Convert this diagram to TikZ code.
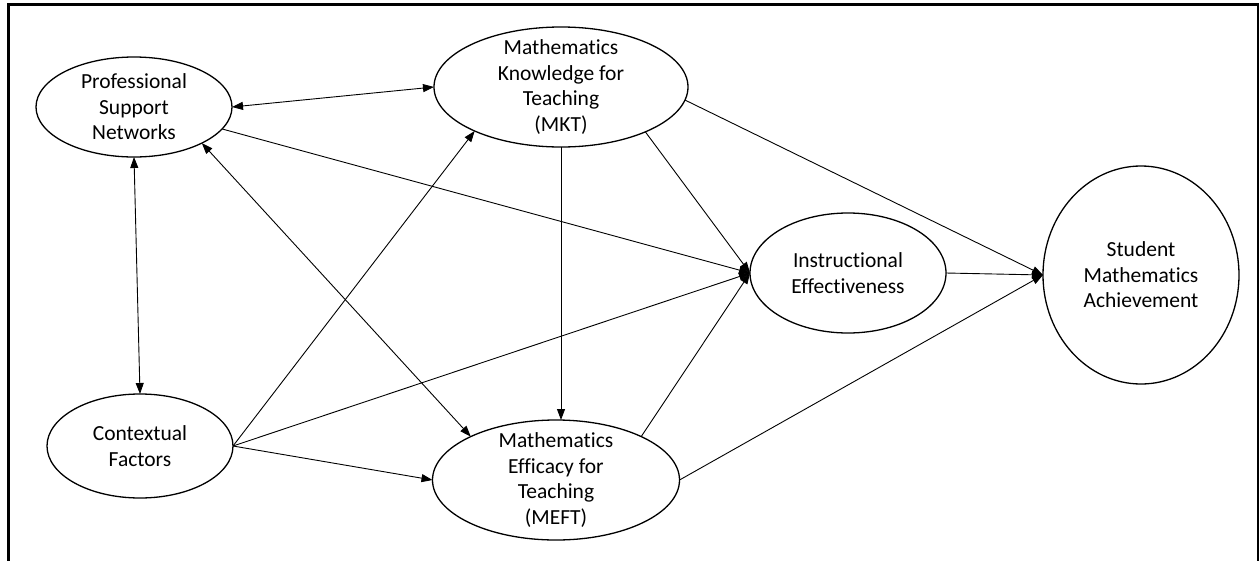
\documentclass[tikz,border=0pt]{standalone}
\usepackage{fontspec}
\setmainfont{Carlito}[Ligatures=NoCommon]
\usetikzlibrary{shapes.geometric,arrows.meta}

\begin{document}
\begin{tikzpicture}[x=1pt,y=-1pt,
  bubble/.style={ellipse,draw,line width=1.3pt,inner sep=0pt,outer sep=0pt},
  txt/.style={align=center,font=\fontsize{21.5}{25.5}\selectfont,inner sep=0pt},
  link/.style={line width=0.9pt,-{Triangle[length=11pt,width=8pt]}},
  both/.style={line width=0.9pt,{Triangle[length=11pt,width=8pt]}-{Triangle[length=11pt,width=8pt]}}]

% canvas and open-bottom frame
\useasboundingbox (0,0) rectangle (1259,560);
\begin{scope}
  \clip (0,0) rectangle (1259,560);
  \draw[line width=2.6pt] (8.5,600) -- (8.5,4.5) -- (1258,4.5) -- (1258,600);
\end{scope}

% constructs
\node[bubble,minimum width=196pt,minimum height=100pt] (PSN) at (134,107) {};
\node[txt] (PSNt) at (PSN) {Professional\\Support\\Networks};

\node[bubble,minimum width=254pt,minimum height=120pt] (MKT) at (561,87) {};
\node[txt] (MKTt) at (MKT) {Mathematics\\Knowledge for\\Teaching\\(MKT)};

\node[bubble,minimum width=186pt,minimum height=104pt] (CF) at (140,446) {};
\node[txt] (CFt) at (CF) {Contextual\\Factors};

\node[bubble,minimum width=247pt,minimum height=120pt] (MEFT) at (556,480) {};
\node[txt] (MEFTt) at (MEFT) {Mathematics\\Efficacy for\\Teaching\\(MEFT)};

\node[bubble,minimum width=196pt,minimum height=120pt] (IE) at (848,273) {};
\node[txt] (IEt) at (IE) {Instructional\\Effectiveness};

\node[bubble,minimum width=196pt,minimum height=218pt] (SMA) at (1141,275) {};
\node[txt] (SMAt) at (SMA) {Student\\Mathematics\\Achievement};

% correlations
\draw[both] (PSN.east) -- (MKT.west);
\draw[both] (PSN.south) -- (CF.north);
\draw[both] (PSN.-28) -- (MEFT.153);

% directed paths
\draw[link] (PSN.-14) -- (IE.west);
\draw[link] (MKT.-28) -- (IE.west);
\draw[link] (MKT.south) -- (MKT.south |- MEFT.north);
\draw[link] (MKT.-6) -- (SMA.west);
\draw[link] (CF.east) -- (MKT.-153);
\draw[link] (CF.east) -- (IE.west);
\draw[link] (CF.east) -- (MEFT.west);
\draw[link] (MEFT.27) -- (IE.west);
\draw[link] (MEFT.east) -- (SMA.west);
\draw[link] (IE.east) -- (SMA.west);
\end{tikzpicture}
\end{document}
